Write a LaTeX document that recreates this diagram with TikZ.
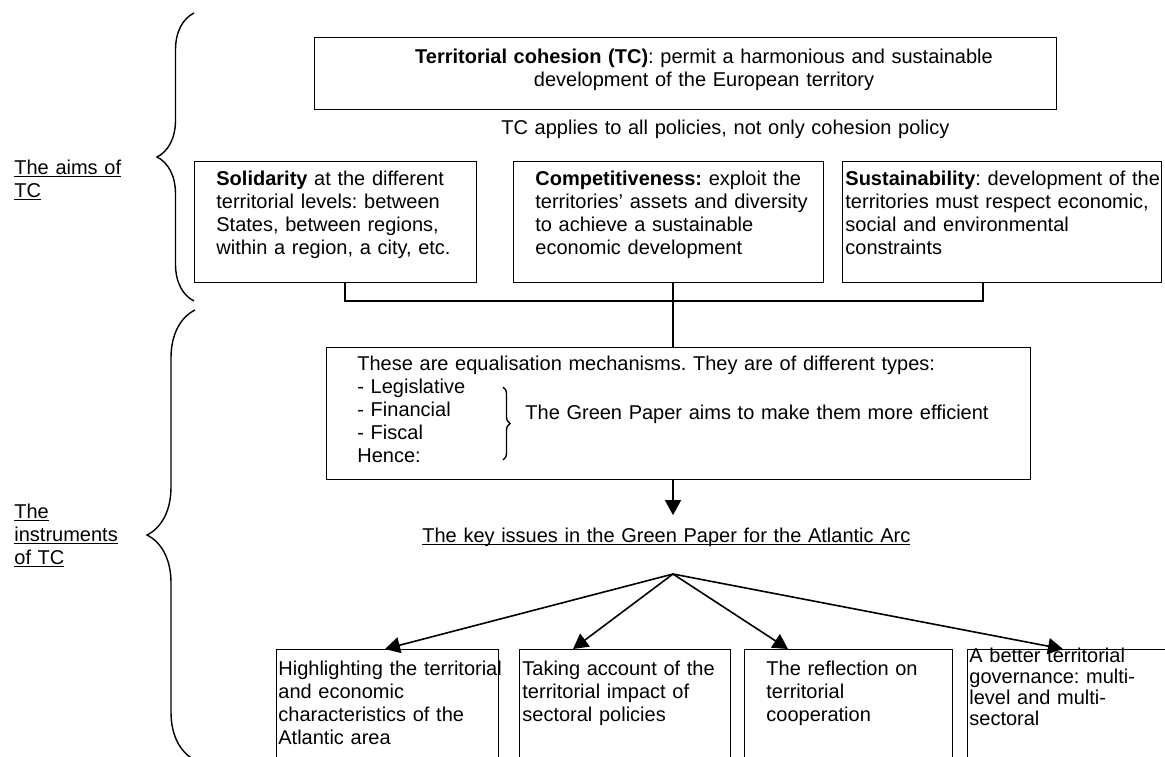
\documentclass[tikz,border=0pt]{standalone}
\usepackage{amsmath}
\usepackage{fontspec}
\setmainfont{Liberation Sans}
\usetikzlibrary{arrows.meta,decorations.pathreplacing}
\frenchspacing

\newcommand{\ulabel}[1]{\underline{\smash[b]{#1}}}

\tikzset{
  box/.style={draw, line width=0.7pt, anchor=north west, inner sep=0pt},
  txt/.style={anchor=base west, inner sep=0pt, align=left, text width=#1,
    font=\fontsize{10}{11.5}\selectfont},
  txt/.default=200pt,
  link/.style={line width=0.8pt},
  arr/.style={link, -{Triangle[length=7.5pt,width=8pt]}},
  curly/.style={line width=0.7pt, decorate, decoration={brace, amplitude=#1}},
}

\begin{document}
\begin{tikzpicture}[x=0.5pt,y=-0.5pt]
\useasboundingbox (0,0) rectangle (1165,756);

% the aims of TC
\node[box, minimum width=371pt, minimum height=36pt] (tc) at (314,37) {};
\node[txt=360pt, anchor=base, align=center] (tctext) at (704,63)
  {\textbf{Territorial cohesion (TC)}: permit a harmonious and sustainable\\development of the European territory};
\node[txt=260pt] (applies) at (501,134) {TC applies to all policies, not only cohesion policy};

\node[box, minimum width=141pt, minimum height=60.5pt] (solid) at (194,161) {};
\node[txt] (solidtext) at (216,185)
  {\textbf{Solidarity} at the different\\territorial levels: between\\States, between regions,\\within a region, a city, etc.};
\node[box, minimum width=155pt, minimum height=60.5pt] (comp) at (513,161) {};
\node[txt] (comptext) at (535,185)
  {\textbf{Competitiveness:} exploit the\\territories’ assets and diversity\\to achieve a sustainable\\economic development};
\node[box, minimum width=159.5pt, minimum height=60.5pt] (sust) at (842,161) {};
\node[txt] (susttext) at (845,185)
  {\textbf{Sustainability}: development of the\\territories must respect economic,\\social and environmental\\constraints};

\node[txt=80pt] (aims) at (14,174) {\ulabel{The aims of}\\\ulabel{TC}};
\draw[curly=18.5pt] (194,301) -- (194,13);

% the instruments of TC
\node[box, minimum width=352pt, minimum height=66pt] (mech) at (326,347) {};
\node[txt=300pt] (mechtext) at (357,370)
  {These are equalisation mechanisms. They are of different types:\\- Legislative\\- Financial\\- Fiscal\\Hence:};
\node[txt=260pt] (aim) at (525,419) {The Green Paper aims to make them more efficient};
\draw[curly=3.5pt] (503,387) -- (503,460);

\node[txt=260pt, inner ysep=6pt] (issues) at (422,542)
  {\ulabel{The key issues in the Green Paper for the Atlantic Arc}};

\node[box, minimum width=111pt, minimum height=65.5pt] (hl) at (276,649) {};
\node[txt] (hltext) at (278,675)
  {Highlighting the territorial\\and economic\\characteristics of the\\Atlantic area};
\node[box, minimum width=105.5pt, minimum height=65.5pt] (tak) at (519,649) {};
\node[txt] (taktext) at (522,675)
  {Taking account of the\\territorial impact of\\sectoral policies};
\node[box, minimum width=104pt, minimum height=65.5pt] (refl) at (744,649) {};
\node[txt] (refltext) at (766,675)
  {The reflection on\\territorial\\cooperation};
\node[box, minimum width=116.5pt, minimum height=65.5pt] (gov) at (967,649) {};
\node[txt, font=\fontsize{10}{10.5}\selectfont] (govtext) at (969,662)
  {A better territorial\\governance: multi-\\level and multi-\\sectoral};

\node[txt=80pt] (instr) at (14,518) {\ulabel{The}\\\ulabel{instruments}\\\ulabel{of TC}};
\draw[curly=24pt] (195,760) -- (195,310);

% connectors
\coordinate (join) at (673,301);
\draw[link] ([xshift=4.5pt]solid.south) |- (join) -| ([xshift=-9.75pt]sust.south);
\draw[link] (comp.south -| join) -- (mech.north -| join);
\draw[arr] (mech.south -| join) -- (issues.north -| join);

\coordinate (fan) at (673,574);
\draw[arr] (fan) -- ([xshift=54.5pt]hl.north west);
\draw[arr] (fan) -- ([xshift=27pt]tak.north west);
\draw[arr] (fan) -- ([xshift=22pt]refl.north west);
\draw[arr] (fan) -- ([xshift=48pt]gov.north west);
\end{tikzpicture}
\end{document}
